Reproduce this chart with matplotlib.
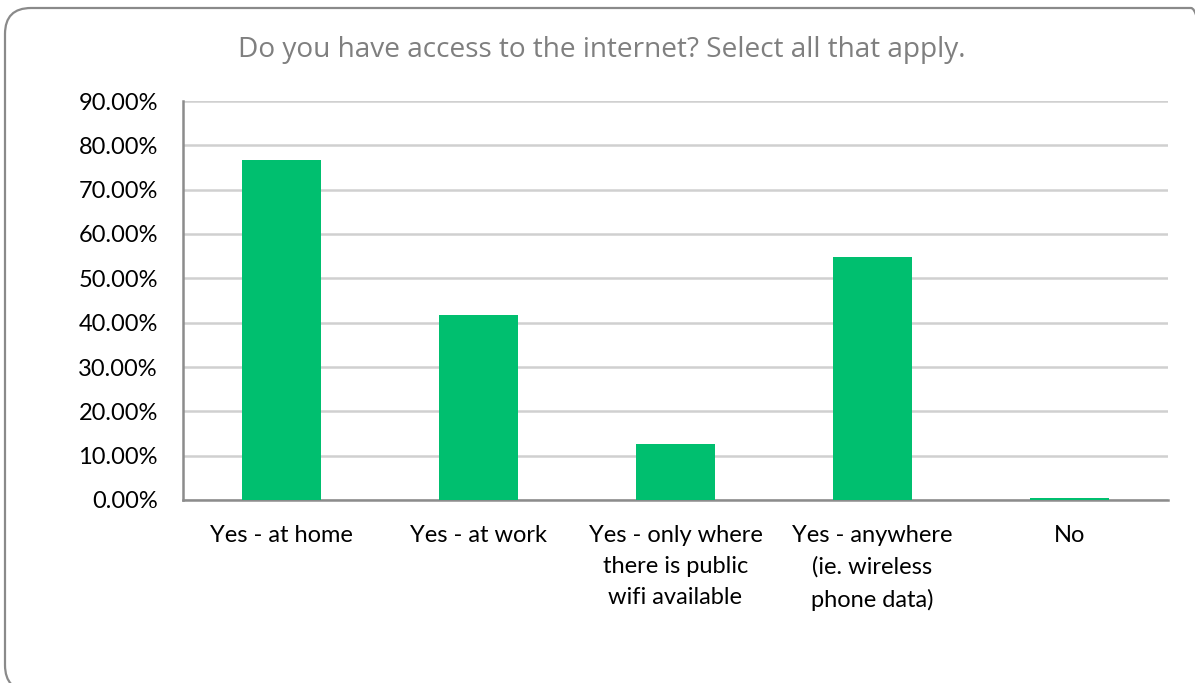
import numpy as np
import matplotlib.pyplot as plt
from matplotlib.patches import FancyBboxPatch
from matplotlib.ticker import FuncFormatter

categories = [
    "Yes - at home",
    "Yes - at work",
    "Yes - only where\nthere is public\nwifi available",
    "Yes - anywhere\n(ie. wireless\nphone data)",
    "No",
]
shares = [76.8, 41.7, 12.6, 54.8, 0.5]
yticks = [0, 10, 20, 30, 40, 50, 60, 70, 80, 90]

BAR_COLOR = "#00bf6f"
GRID_COLOR = "#d0d0d0"
AXIS_COLOR = "#8c8c8c"
LABEL_FONT = "Lato"

fig = plt.figure(figsize=(11.95, 6.83), dpi=100)
W, H = 1195, 683

# rounded chart frame in pixel units, running off the right and bottom edges
frame = FancyBboxPatch((5, -8), 1212, 683, boxstyle="round,pad=0,rounding_size=26",
                       transform=None, facecolor="none",
                       edgecolor="#8a8a8a", linewidth=1.6, zorder=-1)
fig.patches.append(frame)

ax = fig.add_axes([183 / W, 1 - 500 / H, (1168 - 183) / W, (500 - 101) / H])
ax.set_facecolor("none")

x = np.arange(len(categories))
ax.bar(x, shares, width=0.4, color=BAR_COLOR, zorder=3)

ax.set_xlim(-0.5, len(categories) - 0.5)
ax.set_ylim(0, 90)
ax.set_yticks(yticks)
ax.yaxis.set_major_formatter(FuncFormatter(lambda v, p: f"{v:.2f}%"))
ax.set_xticks(x)
ax.set_xticklabels(categories, linespacing=1.6)

ax.grid(axis="y", color=GRID_COLOR, linewidth=1.8, zorder=0)
ax.tick_params(axis="both", length=0, labelsize=17, colors="black")
ax.tick_params(axis="y", pad=18)
ax.tick_params(axis="x", pad=18)
for lbl in ax.get_xticklabels() + ax.get_yticklabels():
    lbl.set_family(LABEL_FONT)
for lbl in ax.get_xticklabels():
    lbl.set_verticalalignment("top")

for side in ("top", "right"):
    ax.spines[side].set_visible(False)
for side in ("left", "bottom"):
    ax.spines[side].set_color(AXIS_COLOR)
    ax.spines[side].set_linewidth(1.8)

fig.text(602 / W, 1 - 50 / H, "Do you have access to the internet? Select all that apply.",
         ha="center", va="center", fontsize=20.2, color="#7f7f7f", family="Open Sans")

fig.savefig("out.png", dpi=100)
